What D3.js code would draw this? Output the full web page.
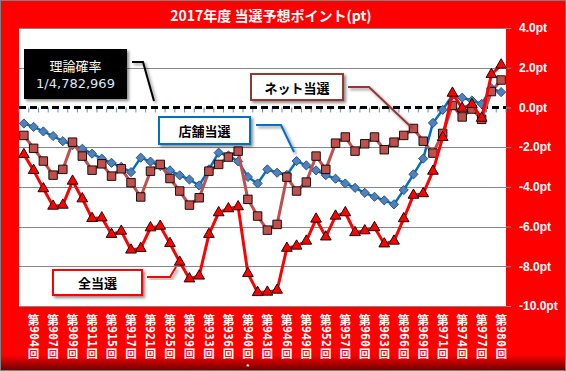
<!DOCTYPE html>
<html>
<head>
<meta charset="utf-8">
<script src="https://cdn.jsdelivr.net/npm/d3@7"></script>
<style>
  body { margin: 0; background: #fff; }
  svg { display: block; }
</style>
</head>
<body>
<div id="chart"></div>
<script>
// rounds (every second one carries a tick label)
const rounds = [
  '第902回', '第904回', '第906回', '第907回', '第908回', '第909回', '第910回', '第911回',
  '第913回', '第915回', '第916回', '第917回', '第919回', '第921回', '第923回', '第925回',
  '第927回', '第929回', '第931回', '第933回', '第935回', '第936回', '第938回', '第940回',
  '第942回', '第943回', '第945回', '第946回', '第948回', '第949回', '第951回', '第952回',
  '第955回', '第957回', '第959回', '第960回', '第962回', '第963回', '第965回', '第966回',
  '第968回', '第969回', '第970回', '第971回', '第973回', '第974回', '第976回', '第977回',
  '第979回', '第980回'
];
const tickRounds = rounds.filter((d, i) => i % 2 === 1);
const noteRounds = ['第940回'];

// 全当選
const allWin = [
  -2.37, -3.17, -4.09, -4.97, -4.92, -3.71, -4.60, -5.59, -5.56, -6.39,
  -6.23, -7.18, -7.10, -6.06, -5.98, -6.85, -7.79, -8.63, -8.49, -6.39,
  -5.30, -5.10, -5.00, -8.36, -9.32, -9.30, -9.20, -7.09, -6.98, -6.73,
  -5.62, -6.52, -5.47, -5.30, -6.30, -6.21, -6.05, -6.87, -6.73, -5.60,
  -4.42, -4.34, -3.21, -1.51, 0.72, -0.04, 0.15, -0.54, 1.66, 2.14
];
// ネット当選
const netWin = [
  -1.41, -2.06, -2.70, -3.41, -3.12, -1.75, -2.45, -3.16, -2.84, -3.46,
  -3.09, -3.79, -4.51, -3.21, -2.87, -3.58, -4.21, -4.92, -4.55, -3.21,
  -2.87, -2.50, -2.20, -4.63, -5.47, -6.18, -5.89, -3.51, -4.21, -3.76,
  -2.45, -3.12, -1.80, -1.49, -2.20, -1.83, -1.49, -2.13, -1.75, -1.41,
  -1.06, -1.70, -2.30, -1.31, 0.10, -0.48, -0.08, -0.60, 0.80, 1.38
];
// 店舗当選
const storeWin = [
  -0.81, -0.98, -1.21, -1.44, -1.70, -1.90, -2.08, -2.33, -2.58, -2.79,
  -2.99, -3.26, -2.53, -2.73, -2.95, -3.17, -3.42, -3.63, -3.93, -3.12,
  -2.28, -2.42, -2.72, -3.50, -3.83, -3.12, -3.29, -3.40, -2.70, -2.92,
  -3.17, -3.41, -3.59, -3.83, -4.05, -4.30, -4.50, -4.68, -4.88, -4.16,
  -3.37, -2.58, -0.78, -0.12, 0.62, 0.49, 0.35, 0.18, 0.96, 0.77
];
const yTicks = [4, 2, 0, -2, -4, -6, -8, -10];

const W = 566, H = 371;
const plot = { left: 19, right: 506, top: 28, bottom: 306 };

const svg = d3.select('#chart').append('svg')
  .attr('width', W).attr('height', H);

const defs = svg.append('defs');
const grad = defs.append('linearGradient').attr('id', 'bottomShade')
  .attr('x1', 0).attr('y1', 0).attr('x2', 0).attr('y2', 1);
grad.append('stop').attr('offset', '0%').attr('stop-color', '#ff0000');
grad.append('stop').attr('offset', '100%').attr('stop-color', '#6e0000');
const shadow = defs.append('filter').attr('id', 'shadow')
  .attr('x', '-20%').attr('y', '-20%').attr('width', '140%').attr('height', '150%');
shadow.append('feDropShadow').attr('dx', 2).attr('dy', 2).attr('stdDeviation', 1.5)
  .attr('flood-color', '#000').attr('flood-opacity', 0.45);

// frame
svg.append('rect').attr('x', 0.5).attr('y', 0.5).attr('width', W - 1).attr('height', H - 1)
  .attr('fill', '#ff0000').attr('stroke', '#808080');
svg.append('rect').attr('x', 1).attr('y', 355).attr('width', W - 2).attr('height', 15)
  .attr('fill', 'url(#bottomShade)');

svg.append('text')
  .attr('x', 271).attr('y', 15)
  .attr('text-anchor', 'middle').attr('dominant-baseline', 'central')
  .attr('fill', '#fff')
  .style('font', '14px "Noto Sans CJK JP", sans-serif')
  .style('font-weight', 600)
  .text('2017年度 当選予想ポイント(pt)');

// scales
const x = d3.scaleBand().domain(rounds).range([plot.left, plot.right]);
const cx = d => x(d) + x.bandwidth() / 2;
const y = d3.scaleLinear().domain([-10, 4]).range([plot.bottom, plot.top]);

svg.append('rect')
  .attr('x', plot.left).attr('y', plot.top)
  .attr('width', plot.right - plot.left).attr('height', plot.bottom - plot.top)
  .attr('fill', '#fff');

// gridlines + right value axis
const yAxis = svg.append('g')
  .attr('transform', `translate(${plot.right},0)`)
  .call(d3.axisRight(y).tickValues(yTicks).tickSize(5).tickPadding(8)
    .tickFormat(d => d.toFixed(1) + 'pt'));
yAxis.select('.domain').remove();
yAxis.selectAll('.tick line').attr('stroke', '#868686');
yAxis.selectAll('.tick text')
  .attr('fill', '#fff').attr('text-anchor', 'start')
  .style('font', 'bold 12px "Liberation Sans", Arial, sans-serif');

svg.append('g').selectAll('line')
  .data(yTicks.filter(d => d !== 0))
  .join('line')
  .attr('x1', plot.left).attr('x2', plot.right)
  .attr('y1', d => Math.round(y(d)) + 0.5).attr('y2', d => Math.round(y(d)) + 0.5)
  .attr('stroke', '#868686');

// category axis crossing at zero
const steps = d3.range(rounds.length + 1).map(i => plot.left + i * x.step());
svg.append('g').selectAll('line')
  .data(steps)
  .join('line')
  .attr('x1', d => d).attr('x2', d => d)
  .attr('y1', y(0)).attr('y2', y(0) + 5)
  .attr('stroke', '#5b8fd0');
svg.append('line')
  .attr('x1', plot.left).attr('x2', plot.right)
  .attr('y1', y(0)).attr('y2', y(0))
  .attr('stroke', '#000').attr('stroke-width', 3)
  .attr('stroke-dasharray', '7,4');

// category labels: 第 and 回 upright, digits turned sideways
const labelFont = 'bold 12px "Noto Sans CJK JP", sans-serif';
const labels = svg.append('g')
  .selectAll('g')
  .data(tickRounds)
  .join('g')
  .attr('transform', d => `translate(${cx(d)},0)`)
  .attr('fill', '#fff')
  .style('font', labelFont);
labels.append('text')
  .attr('y', 319.5).attr('text-anchor', 'middle').attr('dominant-baseline', 'central')
  .text(d => d.slice(0, 1));
labels.append('text')
  .attr('transform', 'translate(0,336.5) rotate(90)')
  .attr('text-anchor', 'middle').attr('dominant-baseline', 'central')
  .style('font', 'bold 11.5px "DejaVu Sans Mono", monospace')
  .text(d => d.slice(1, -1));
labels.append('text')
  .attr('y', 353).attr('text-anchor', 'middle').attr('dominant-baseline', 'central')
  .style('font-size', '11.5px')
  .text(d => d.slice(-1));
svg.append('g').selectAll('text')
  .data(noteRounds)
  .join('text')
  .attr('x', d => cx(d))
  .attr('y', 368.5)
  .attr('text-anchor', 'middle')
  .attr('fill', '#ffffcc')
  .style('font', 'bold 8px "Liberation Sans", sans-serif')
  .text('*');

// series
const series = [
  { name: '店舗当選', values: storeWin, line: '#0070c0', fill: '#4f81bd', stroke: '#2c4d75',
    width: 2.5, symbol: d3.symbolSquare, size: 42, rotate: 45 },
  { name: 'ネット当選', values: netWin, line: '#c0504d', fill: '#c0504d', stroke: '#000',
    width: 3, symbol: d3.symbolSquare, size: 72, rotate: 0 },
  { name: '全当選', values: allWin, line: '#ff0000', fill: '#ff0000', stroke: '#000',
    width: 3, symbol: d3.symbolTriangle, size: 50, rotate: 0 }
];

const line = d3.line().x((d, i) => cx(rounds[i])).y(d => y(d));

series.forEach(s => {
  const g = svg.append('g');
  g.append('path')
    .attr('d', line(s.values))
    .attr('fill', 'none')
    .attr('stroke', s.line)
    .attr('stroke-width', s.width)
    .attr('stroke-linejoin', 'round');
  g.selectAll('path.mark')
    .data(s.values)
    .join('path')
    .attr('class', 'mark')
    .attr('d', d3.symbol().type(s.symbol).size(s.size))
    .attr('transform', (d, i) => `translate(${cx(rounds[i])},${y(d)}) rotate(${s.rotate})`)
    .attr('fill', s.fill)
    .attr('stroke', s.stroke)
    .attr('stroke-width', 0.9);
});

// callouts
function callout(opts) {
  svg.append('path')
    .attr('d', d3.line()(opts.leader))
    .attr('fill', 'none')
    .attr('stroke', opts.lineColor)
    .attr('stroke-width', 2)
    .attr('filter', 'url(#shadow)');
  svg.append('rect')
    .attr('x', opts.x).attr('y', opts.y)
    .attr('width', opts.w).attr('height', opts.h)
    .attr('fill', opts.fill)
    .attr('stroke', opts.border)
    .attr('stroke-width', opts.border === 'none' ? 0 : 2)
    .attr('filter', 'url(#shadow)');
  opts.lines.forEach((t, i) => {
    svg.append('text')
      .attr('x', opts.x + opts.w / 2)
      .attr('y', opts.y + opts.h / 2 + (i - (opts.lines.length - 1) / 2) * 18)
      .attr('text-anchor', 'middle').attr('dominant-baseline', 'central')
      .attr('fill', t.color)
      .style('font', t.font)
      .text(t.text);
  });
}

callout({
  x: 24, y: 49, w: 103, h: 50, fill: '#000', border: 'none', lineColor: '#000',
  leader: [[132, 62], [143, 62], [154, 101]],
  lines: [
    { text: '理論確率', color: '#fff', font: '13px "Noto Sans CJK JP", sans-serif' },
    { text: '1/4,782,969', color: '#dce9f7', font: '13px "DejaVu Sans", sans-serif' }
  ]
});
callout({
  x: 159, y: 117, w: 91, h: 27, fill: '#fff', border: '#0070c0', lineColor: '#0070c0',
  leader: [[256, 125], [281, 125], [294, 152]],
  lines: [{ text: '店舗当選', color: '#000', font: 'bold 13px "Noto Sans CJK JP", sans-serif' }]
});
callout({
  x: 251, y: 74, w: 92, h: 26, fill: '#fff', border: '#953735', lineColor: '#953735',
  leader: [[348, 87], [369, 87], [410, 126]],
  lines: [{ text: 'ネット当選', color: '#000', font: 'bold 13px "Noto Sans CJK JP", sans-serif' }]
});
callout({
  x: 53, y: 270, w: 89, h: 25, fill: '#fff', border: '#ff0000', lineColor: '#ff0000',
  leader: [[147, 277], [170, 277], [176, 267]],
  lines: [{ text: '全当選', color: '#000', font: 'bold 13px "Noto Sans CJK JP", sans-serif' }]
});
</script>
</body>
</html>
